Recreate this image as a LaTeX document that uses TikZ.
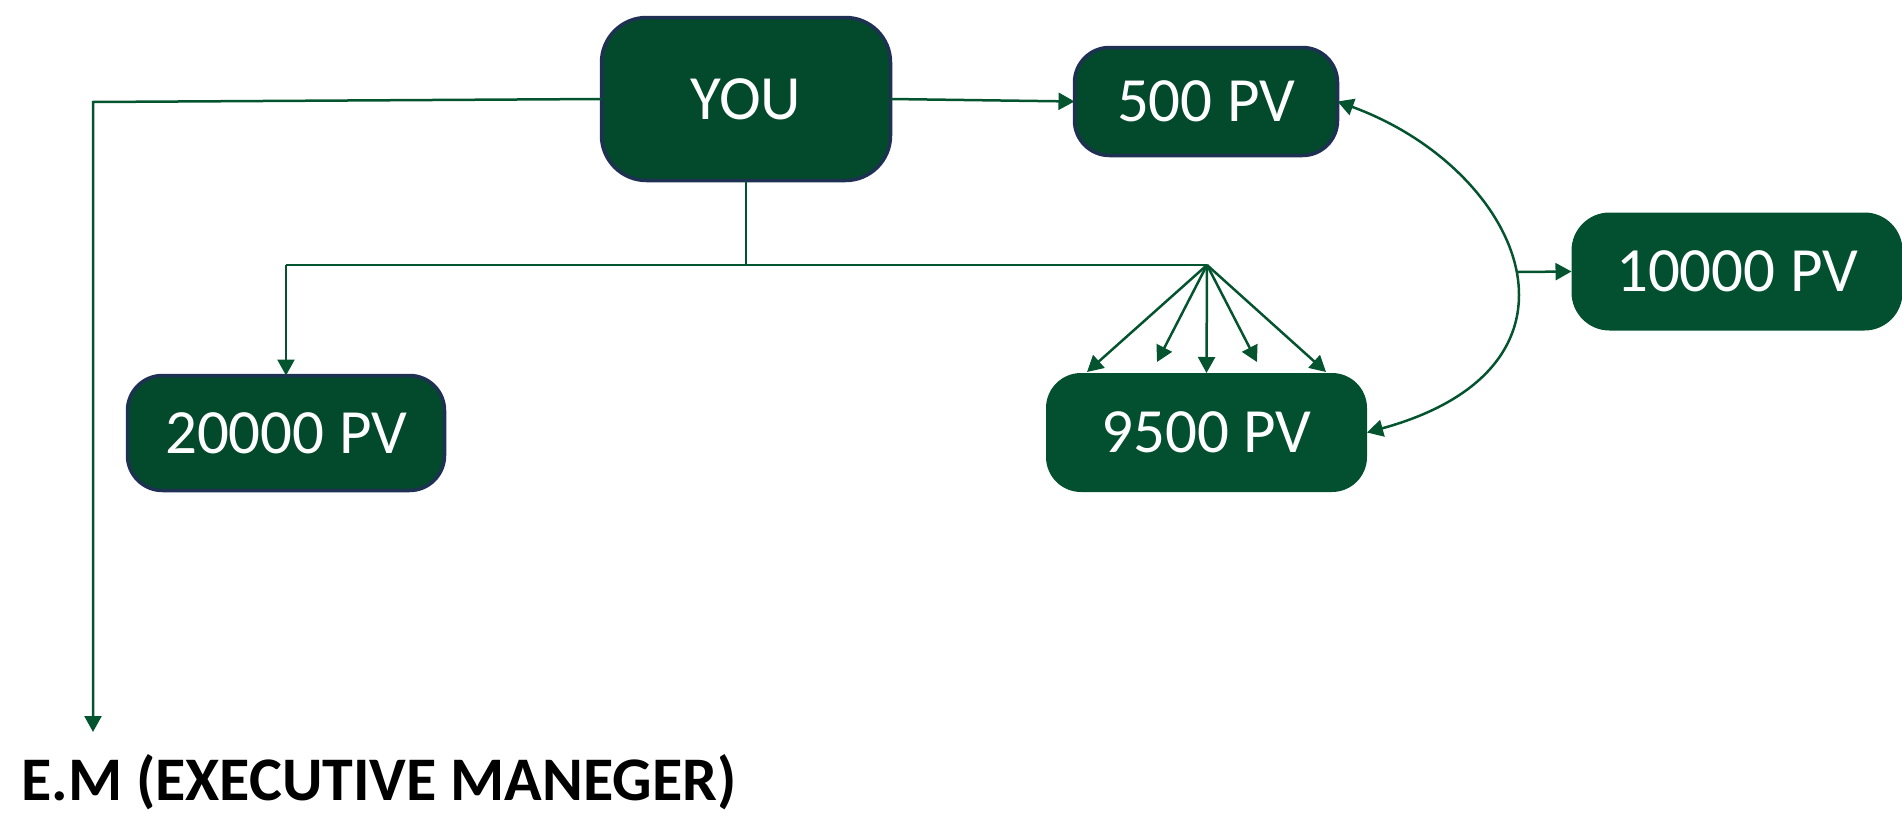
\documentclass[tikz,border=0pt]{standalone}
\usepackage{fontspec}
\setmainfont{Carlito}
\usetikzlibrary{arrows.meta}
\definecolor{gfill}{HTML}{034A2C}
\definecolor{gfill2}{HTML}{025030}
\definecolor{gline}{HTML}{04542F}
\definecolor{navy}{HTML}{1F3152}
\begin{document}
\begin{tikzpicture}[x=1pt,y=-1pt,
  boxtext/.style={text=white, inner sep=0pt, outer sep=0pt, align=center,
    font=\fontsize{63}{70}\selectfont, text height=40pt, text depth=0pt},
  box/.style={boxtext, fill=gfill, draw=navy, line width=3.5pt},
  plainbox/.style={boxtext, fill=gfill2, draw=none},
  conn/.style={draw=gline, line width=2.5pt},
  tip/.style={-{Triangle[length=16pt,width=17pt]}},
  arr/.style={conn, tip},
]
\useasboundingbox (0,0) rectangle (1902,822);

% boxes
\node[box, minimum width=289, minimum height=163, rounded corners=45] (you) at (746,99) {YOU};
\node[box, minimum width=263, minimum height=108, rounded corners=35] (p5) at (1206,101.5) {500 PV};
\node[box, minimum width=317, minimum height=115, rounded corners=35] (p20) at (286,433) {20000 PV};
\node[plainbox, minimum width=321, minimum height=119, rounded corners=35] (p95) at (1206.5,432.5) {9500 PV};
\node[plainbox, minimum width=331, minimum height=118, rounded corners=38] (p10) at (1737,271.5) {10000 PV};
\node[anchor=base west, inner sep=0pt, font=\bfseries\fontsize{62}{70}\selectfont] (em) at (21,800) {E.M (EXECUTIVE MANEGER)};

% helper coordinates
\coordinate (emc) at (93,102);
\coordinate (emtip) at (93,732);
\coordinate (ybot) at (746,265);
\coordinate (lc) at (286,265);
\coordinate (fan) at (1207,265);
\coordinate (f1) at (1087,372);
\coordinate (f2) at (1157,362);
\coordinate (f4) at (1257,362);
\coordinate (f5) at (1326,372);
\coordinate (c10) at (1518,272);

% connectors
\draw[arr] (you.west) -- (emc) -- (emtip);
\draw[arr] (you.east) -- (p5.west);
\draw[conn] (you.south) -- (ybot);
\draw[conn] (lc) -- (fan);
\draw[arr] (lc) -- (p20.north);
\draw[arr] (fan) -- (f1);
\draw[arr] (fan) -- (f2);
\draw[arr] (fan) -- (p95.north);
\draw[arr] (fan) -- (f4);
\draw[arr] (fan) -- (f5);
\draw[conn, {Triangle[length=16pt,width=17pt]}-{Triangle[length=16pt,width=17pt]}]
  (p5.east) .. controls (1522,169) and (1609,366) .. (p95.east);
\draw[arr] (c10) -- (p10.west);
\end{tikzpicture}
\end{document}
